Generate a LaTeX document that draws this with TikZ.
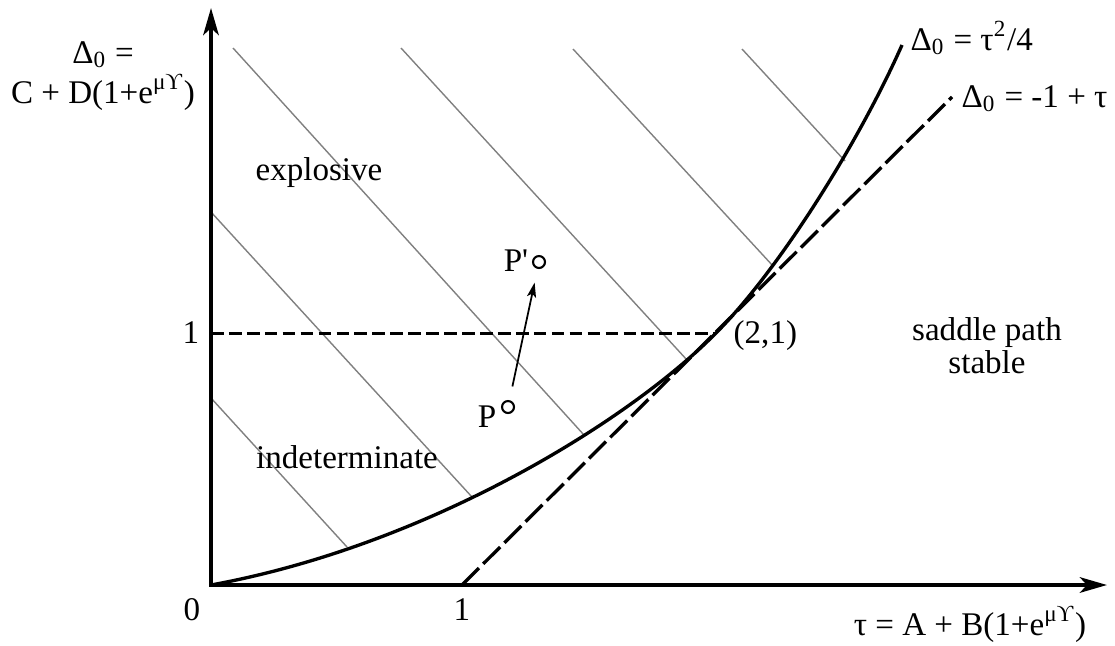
\documentclass[tikz,border=0pt]{standalone}
\usepackage{fontspec}
\setmainfont{Liberation Serif}[Ligatures=TeXOff]
\usetikzlibrary{arrows.meta}
\begin{document}
\begin{tikzpicture}[x=0.01cm,y=-0.01cm,
  axis/.style={line width=1.15pt,-{Stealth[length=7.7pt,width=4.4pt,inset=2pt]}},
  curve/.style={line width=0.95pt},
  hatch/.style={line width=0.4pt,draw=black!50},
  tangent/.style={line width=0.95pt,dash pattern=on 6.8pt off 1.7pt},
  guide/.style={line width=0.85pt,dash pattern=on 3.6pt off 1.5pt},
  lbl/.style={inner sep=0pt,font=\fontsize{9.4pt}{11pt}\selectfont},
  dot/.style={circle,draw,line width=0.6pt,minimum size=3.4pt,inner sep=0pt},
  move/.style={line width=0.5pt,-{Stealth[length=4.2pt,width=2.6pt,inset=1pt]}},
]
\useasboundingbox (0,0) rectangle (1115,645);
% key points
\coordinate (O) at (211,585);
\coordinate (ytip) at (211,8);
\coordinate (xtip) at (1107,585);
\coordinate (T) at (716,333);
\coordinate (Y1) at (211,333);
\coordinate (X1) at (462,585);
\coordinate (Ltop) at (952,97);
\coordinate (Ctop) at (902,45);
% hatch lines
\coordinate (h1s) at (211,398); \coordinate (h1e) at (347,547);
\coordinate (h2s) at (211,212); \coordinate (h2e) at (472,497);
\coordinate (h3s) at (233,48);  \coordinate (h3e) at (584,435);
\coordinate (h4s) at (401,48);  \coordinate (h4e) at (687,360);
\coordinate (h5s) at (573,49);  \coordinate (h5e) at (773,266);
\coordinate (h6s) at (742,49);  \coordinate (h6e) at (845,161);
\draw[hatch] (h1s) -- (h1e);
\draw[hatch] (h2s) -- (h2e);
\draw[hatch] (h3s) -- (h3e);
\draw[hatch] (h4s) -- (h4e);
\draw[hatch] (h5s) -- (h5e);
\draw[hatch] (h6s) -- (h6e);
% guide line at 1
\draw[guide] (Y1) -- (T);
% tangent line
\draw[tangent] (X1) -- (Ltop);
% curve
\draw[curve] (O) .. controls (430,545) and (630,420) .. (T)
                 .. controls (780,269) and (860,140) .. (Ctop);
% axes
\draw[axis] ([xshift=-0.5pt]O) -- (xtip);
\draw[axis] ([yshift=-0.5pt]O) -- (ytip);
% points P and P'
\node[dot] (P) at (508,407) {};
\node[dot] (Pp) at (539,262) {};
\draw[move,shorten <=14pt*0.2845,shorten >=14pt*0.2845] (P) -- (Pp);
% labels
\node[lbl,anchor=base] (ylab1) at (103,63) {Δ\textsubscript{0} =};
\node[lbl,anchor=base] (ylab2) at (103,103) {C + D(1+e\textsuperscript{μϒ})};
\node[lbl,anchor=base west] (clab) at (910,50) {Δ\textsubscript{0} = τ\textsuperscript{2}/4};
\node[lbl,anchor=base west] (llab) at (961,107) {Δ\textsubscript{0} = -1 + τ};
\node[lbl,anchor=base] (xlab) at (970,635) {τ = A + B(1+e\textsuperscript{μϒ})};
\node[lbl,anchor=base] (zero) at (192,620) {0};
\node[lbl,anchor=base] (yone) at (191,343) {1};
\node[lbl,anchor=base] (xone) at (462,620) {1};
\node[lbl,anchor=base west] (tp) at (733,343) {(2,1)};
\node[lbl,anchor=base] (sad1) at (987,340) {saddle path};
\node[lbl,anchor=base] (sad2) at (987,373) {stable};
\node[lbl,anchor=base] (expl) at (319,180) {explosive};
\node[lbl,anchor=base] (indet) at (347,468) {indeterminate};
\node[lbl,anchor=base] (Plab) at (487,427) {P};
\node[lbl,anchor=base] (Pplab) at (516,271) {P'};
\end{tikzpicture}
\end{document}
